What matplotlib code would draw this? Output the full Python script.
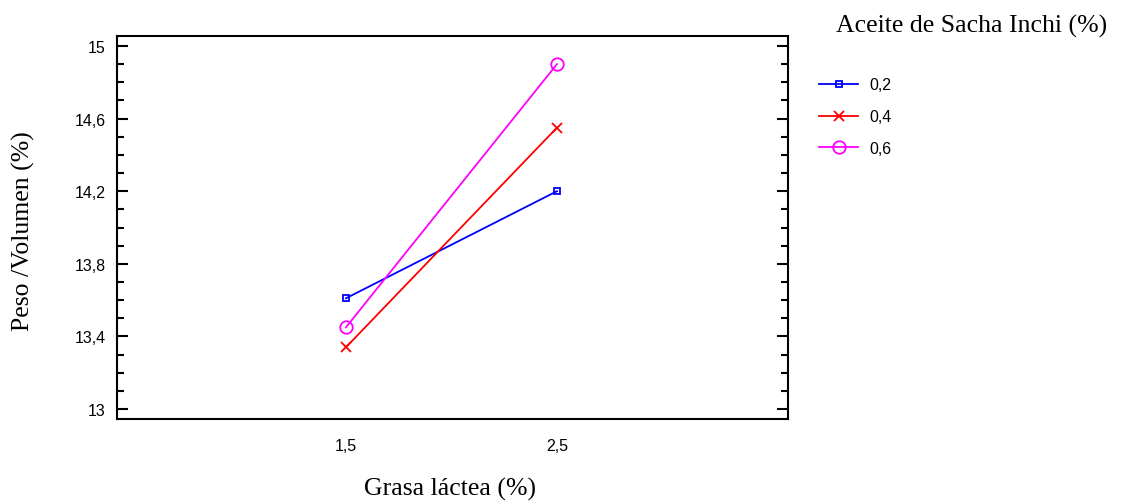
import matplotlib
matplotlib.use('Agg')
import numpy as np
import matplotlib.pyplot as plt
from matplotlib.ticker import FixedLocator, FuncFormatter
from matplotlib.lines import Line2D
from matplotlib import font_manager

# data
grasa = [1.5, 2.5]
aceite = ['0,2', '0,4', '0,6']
peso_02 = [13.61, 14.20]
peso_04 = [13.34, 14.55]
peso_06 = [13.45, 14.90]
y_ticks = [13.0, 13.4, 13.8, 14.2, 14.6, 15.0]

series = [peso_02, peso_04, peso_06]
colors = ['#0000ff', '#ff0000', '#ff00ff']
markers = ['s', 'x', 'o']
msizes = [5, 7, 9]

names = {f.name for f in font_manager.fontManager.ttflist}
tick_font = 'Liberation Sans Narrow' if 'Liberation Sans Narrow' in names else 'Liberation Sans'
serif_font = 'Liberation Serif'
label_size = 18.5

fig = plt.figure(figsize=(11.22, 5.02), dpi=100)
ax = fig.add_axes([117 / 1122, 1 - 420 / 502, (788 - 117) / 1122, (420 - 37) / 502])

for vals, c, m, ms in zip(series, colors, markers, msizes):
    ax.plot(grasa, vals, color=c, linewidth=1.3, marker=m, markersize=ms,
            markerfacecolor='none', markeredgecolor=c, markeredgewidth=1.3)

comma = FuncFormatter(lambda v, p: f'{v:g}'.replace('.', ','))
ax.set_xlim(0.415, 3.595)
ax.set_ylim(12.945, 15.055)
ax.set_xticks(grasa)
ax.xaxis.set_major_formatter(comma)
ax.tick_params(axis='x', length=0, pad=14)
ax.yaxis.set_major_locator(FixedLocator(y_ticks))
ax.yaxis.set_minor_locator(FixedLocator(np.arange(13.0, 15.01, 0.1)))
ax.yaxis.set_major_formatter(comma)
ax.tick_params(axis='y', which='major', direction='in', length=8, width=1.5, left=True, right=True, pad=8)
ax.tick_params(axis='y', which='minor', direction='in', length=5, width=1.5, left=True, right=True)
for lab in ax.get_xticklabels() + ax.get_yticklabels():
    lab.set_fontfamily(tick_font)
    lab.set_fontsize(11.5)
for s in ax.spines.values():
    s.set_linewidth(1.5)

# axis titles placed like the original
fig.text(450 / 1122, 1 - 489 / 502, 'Grasa láctea (%)', fontfamily=serif_font,
         fontsize=label_size, ha='center', va='center')
fig.text(23 / 1122, 1 - 231 / 502, 'Peso /Volumen (%)', fontfamily=serif_font,
         fontsize=label_size, ha='center', va='center', rotation=90)

handles = [Line2D([], [], color=c, marker=m, markersize=ms, markerfacecolor='none',
                  markeredgecolor=c, linewidth=1.3, markeredgewidth=1.3)
           for c, m, ms in zip(colors, markers, msizes)]
fig.text(972 / 1122, 1 - 26 / 502, 'Aceite de Sacha Inchi (%)', fontfamily=serif_font,
         fontsize=label_size, va='center', ha='center')
leg = fig.legend(handles, aceite, loc='upper left', bbox_to_anchor=(805 / 1122, 1 - 64 / 502),
                 frameon=False, prop={'family': tick_font, 'size': 11.5},
                 handlelength=2.4, labelspacing=1.05, handletextpad=0.7)

fig.savefig('out.png', dpi=100)
